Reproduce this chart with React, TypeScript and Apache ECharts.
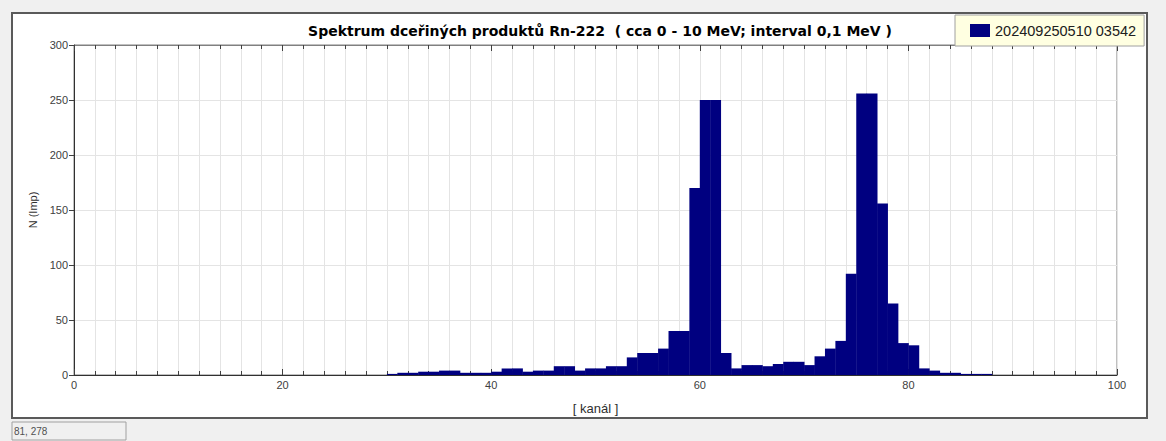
import React, { useEffect, useRef } from "react";
import * as echarts from "echarts";

const channels = [
  30, 31, 32, 33, 34, 35, 36, 37, 38, 39, 40, 41, 42, 43, 44, 45, 46, 47, 48, 49,
  50, 51, 52, 53, 54, 55, 56, 57, 58, 59, 60, 61, 62, 63, 64, 65, 66, 67, 68, 69,
  70, 71, 72, 73, 74, 75, 76, 77, 78, 79, 80, 81, 82, 83, 84, 85, 86, 87,
];
const counts = [
  1, 2, 2, 3, 3, 4, 4, 2, 2, 2, 3, 6, 6, 3, 4, 4, 8, 8, 4, 6,
  6, 8, 8, 16, 20, 20, 24, 40, 40, 170, 250, 250, 20, 6, 9, 9, 8, 10, 12, 12,
  9, 17, 24, 31, 92, 256, 256, 156, 65, 29, 27, 6, 4, 2, 2, 1, 1, 1,
];
const seriesName = "202409250510 03542";
const titleText = "Spektrum dceřiných produktů Rn-222  ( cca 0 - 10 MeV; interval 0,1 MeV )";
const xName = "[ kanál ]";
const yName = "N (Imp)";
const statusText = "81, 278";

const FONT = "Liberation Sans, Arial, sans-serif";

export default function App() {
  const ref = useRef<HTMLDivElement>(null);
  useEffect(() => {
    const chart = echarts.init(ref.current!, null, { renderer: "svg" });
    const data = channels.map((c, i) => [c, counts[i]]);
    const xCommon = {
      type: "value",
      min: 0,
      max: 100,
      interval: 20,
      minorTick: { show: true, splitNumber: 10, length: 4, lineStyle: { color: "#404040" } },
      axisTick: { show: true, inside: true, length: 6, lineStyle: { color: "#404040" } },
    };
    chart.setOption({
      animation: false,
      backgroundColor: "#f0f0f0",
      textStyle: { fontFamily: FONT },
      graphic: [
        {
          type: "rect",
          z: -10,
          shape: { x: 12, y: 13, width: 1135, height: 405 },
          style: { fill: "#ffffff", stroke: "#5a5a5a", lineWidth: 2 },
          silent: true,
        },
        {
          type: "text",
          x: 600,
          y: 31,
          style: {
            text: titleText,
            fontFamily: "DejaVu Sans, sans-serif",
            fontSize: 14,
            fontWeight: "bold",
            fill: "#000000",
            textAlign: "center",
            textVerticalAlign: "middle",
          },
        },
        {
          type: "rect",
          shape: { x: 12, y: 422, width: 114, height: 18 },
          style: { fill: "#f0f0f0", stroke: "#a0a0a0", lineWidth: 1 },
        },
        {
          type: "text",
          x: 14,
          y: 431,
          style: {
            text: statusText,
            fontFamily: FONT,
            fontSize: 10,
            fill: "#505050",
            textVerticalAlign: "middle",
          },
        },
      ],
      legend: {
        show: true,
        left: 955,
        top: 15,
        padding: [8, 8, 8, 15],
        backgroundColor: "#ffffe1",
        borderColor: "#a0a0a0",
        borderWidth: 1,
        itemWidth: 20,
        itemHeight: 13,
        icon: "rect",
        textStyle: { fontFamily: FONT, fontSize: 14.5, color: "#202020" },
        data: [seriesName],
      },
      grid: {
        left: 74,
        right: 49,
        top: 45,
        bottom: 66,
        show: true,
        borderColor: "#808080",
        borderWidth: 1,
        backgroundColor: "transparent",
      },
      xAxis: [
        {
          ...xCommon,
          position: "bottom",
          name: xName,
          nameLocation: "middle",
          nameGap: 27,
          nameTextStyle: { fontFamily: FONT, fontSize: 13, color: "#303030" },
          axisLine: { show: true, lineStyle: { color: "#303030", width: 1 } },
          axisLabel: { fontFamily: FONT, fontSize: 11, color: "#404040", margin: 4 },
          splitLine: { show: true, lineStyle: { color: "#e4e4e4" } },
          minorSplitLine: { show: true, lineStyle: { color: "#e4e4e4" } },
        },
        {
          ...xCommon,
          position: "top",
          axisLine: { show: true, lineStyle: { color: "#808080", width: 1 } },
          axisLabel: { show: false },
          splitLine: { show: false },
        },
      ],
      yAxis: {
        type: "value",
        min: 0,
        max: 300,
        interval: 50,
        name: yName,
        nameLocation: "middle",
        nameGap: 35,
        nameRotate: 90,
        nameTextStyle: { fontFamily: FONT, fontSize: 11, color: "#303030" },
        axisLine: { show: true, lineStyle: { color: "#303030" } },
        axisTick: { show: true, length: 5, lineStyle: { color: "#404040" } },
        axisLabel: { fontFamily: FONT, fontSize: 11, color: "#404040", margin: 6 },
        splitLine: { show: true, lineStyle: { color: "#e4e4e4" } },
      },
      series: [
        {
          name: seriesName,
          type: "custom",
          xAxisIndex: 0,
          yAxisIndex: 0,
          itemStyle: { color: "#000080" },
          encode: { x: 0, y: 1 },
          data,
          renderItem: (params: any, api: any) => {
            const c = api.value(0);
            const v = api.value(1);
            const p0 = api.coord([c, v]);
            const p1 = api.coord([c + 1, 0]);
            return {
              type: "rect",
              shape: { x: p0[0], y: p0[1], width: p1[0] - p0[0] + 0.4, height: p1[1] - p0[1] },
              style: { fill: "#000080" },
            };
          },
        },
      ],
    });
    return () => chart.dispose();
  }, []);
  return (
    <div
      ref={ref}
      style={{ position: "fixed", left: 0, top: 0, width: 1166, height: 441 }}
    />
  );
}
